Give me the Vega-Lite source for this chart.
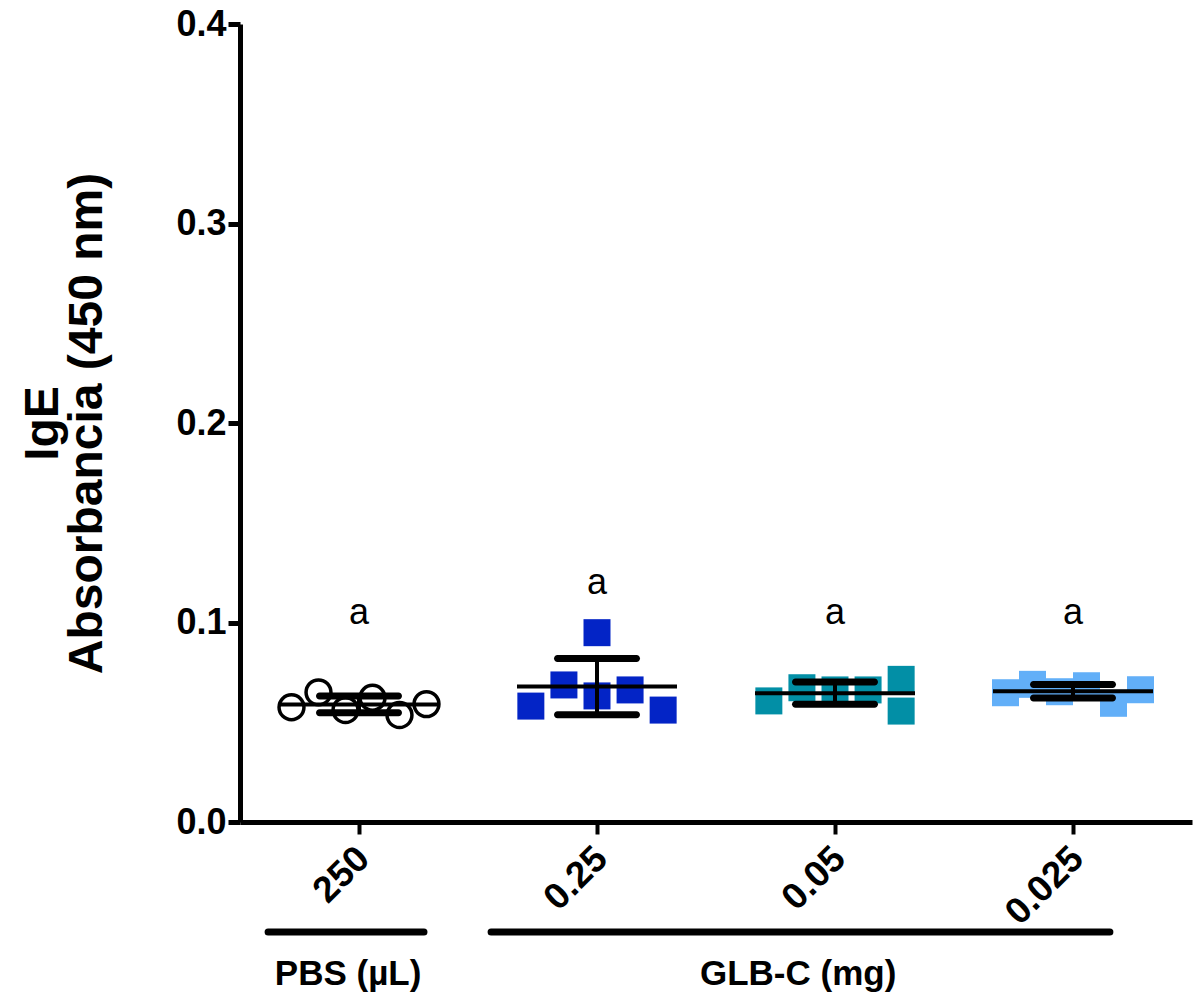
{
  "$schema": "https://vega.github.io/schema/vega-lite/v6.json",
  "width": 952,
  "height": 798,
  "autosize": "none",
  "padding": {"left": 240, "top": 24, "right": 4, "bottom": 178},
  "background": "white",
  "config": {"view": {"stroke": null}, "font": "Liberation Sans"},
  "datasets": {
    "points": [
      {"treatment": "PBS", "dose": "250", "value": 0.0575, "jitter": -1.0},
      {"treatment": "PBS", "dose": "250", "value": 0.0650, "jitter": -0.6},
      {"treatment": "PBS", "dose": "250", "value": 0.0561, "jitter": -0.2},
      {"treatment": "PBS", "dose": "250", "value": 0.0623, "jitter": 0.2},
      {"treatment": "PBS", "dose": "250", "value": 0.0536, "jitter": 0.6},
      {"treatment": "PBS", "dose": "250", "value": 0.0591, "jitter": 1.0},
      {"treatment": "GLB-C", "dose": "0.25", "value": 0.0581, "jitter": -0.98},
      {"treatment": "GLB-C", "dose": "0.25", "value": 0.0687, "jitter": -0.49},
      {"treatment": "GLB-C", "dose": "0.25", "value": 0.0949, "jitter": 0.0},
      {"treatment": "GLB-C", "dose": "0.25", "value": 0.0632, "jitter": 0.0},
      {"treatment": "GLB-C", "dose": "0.25", "value": 0.0662, "jitter": 0.49},
      {"treatment": "GLB-C", "dose": "0.25", "value": 0.0561, "jitter": 0.98},
      {"treatment": "GLB-C", "dose": "0.05", "value": 0.0607, "jitter": -0.98},
      {"treatment": "GLB-C", "dose": "0.05", "value": 0.0673, "jitter": -0.49},
      {"treatment": "GLB-C", "dose": "0.05", "value": 0.0662, "jitter": 0.0},
      {"treatment": "GLB-C", "dose": "0.05", "value": 0.0662, "jitter": 0.49},
      {"treatment": "GLB-C", "dose": "0.05", "value": 0.0715, "jitter": 0.98},
      {"treatment": "GLB-C", "dose": "0.05", "value": 0.0556, "jitter": 0.98},
      {"treatment": "GLB-C", "dose": "0.025", "value": 0.0648, "jitter": -1.0},
      {"treatment": "GLB-C", "dose": "0.025", "value": 0.0690, "jitter": -0.6},
      {"treatment": "GLB-C", "dose": "0.025", "value": 0.0653, "jitter": -0.2},
      {"treatment": "GLB-C", "dose": "0.025", "value": 0.0683, "jitter": 0.2},
      {"treatment": "GLB-C", "dose": "0.025", "value": 0.0595, "jitter": 0.6},
      {"treatment": "GLB-C", "dose": "0.025", "value": 0.0663, "jitter": 1.0}
    ],
    "letters": [
      {"dose": "250", "letter": "a", "pos": 0.105},
      {"dose": "0.25", "letter": "a", "pos": 0.12},
      {"dose": "0.05", "letter": "a", "pos": 0.105},
      {"dose": "0.025", "letter": "a", "pos": 0.105}
    ],
    "groups": [
      {"label": "PBS (µL)", "start": 0.618, "end": 1.273, "mid": 0.954},
      {"label": "GLB-C (mg)", "start": 1.555, "end": 4.155, "mid": 2.845}
    ]
  },
  "resolve": {"scale": {"x": "independent"}},
  "layer": [
    {
      "layer": [
        {
          "data": {"name": "points"},
          "transform": [{"filter": "datum.treatment == 'PBS'"}],
          "mark": {"type": "point", "shape": "circle", "filled": false, "stroke": "black", "strokeWidth": 3.5, "size": 620, "opacity": 1},
          "encoding": {
            "x": {
              "field": "dose", "type": "nominal",
              "sort": ["250", "0.25", "0.05", "0.025"],
              "scale": {"domain": ["250", "0.25", "0.05", "0.025"], "paddingInner": 0, "paddingOuter": 0},
              "axis": {
                "title": null, "labelAngle": -45, "labelFont": "Liberation Sans", "labelFontWeight": "bold",
                "labelFontSize": 37, "labelColor": "black", "labelPadding": 6, "labelOffset": -8,
                "domainWidth": 5, "domainColor": "black", "tickWidth": 4, "tickColor": "black", "tickSize": 12, "grid": false
              }
            },
            "xOffset": {"field": "jitter", "type": "quantitative", "scale": {"domain": [-1.763, 1.763]}},
            "y": {
              "field": "value", "type": "quantitative",
              "title": ["IgE", "Absorbancia (450 nm)"],
              "scale": {"domain": [0, 0.4], "nice": false, "zero": true},
              "axis": {
                "values": [0, 0.1, 0.2, 0.3, 0.4], "format": ".1f", "grid": false,
                "domainWidth": 5, "domainColor": "black", "tickWidth": 5, "tickColor": "black", "tickSize": 12,
                "labelFont": "Liberation Sans", "labelFontWeight": "bold", "labelFontSize": 36, "labelColor": "black", "labelPadding": 2,
                "titleFont": "Liberation Sans", "titleFontSize": 48,
                "titleFontWeight": "bold", "titleColor": "black", "titlePadding": 64, "titleLineHeight": 44
              }
            }
          }
        },
        {
          "data": {"name": "points"},
          "transform": [{"filter": "datum.treatment != 'PBS'"}],
          "mark": {"type": "point", "shape": "square", "filled": true, "opacity": 1, "size": 729, "strokeWidth": 0},
          "encoding": {
            "x": {"field": "dose", "type": "nominal", "sort": ["250", "0.25", "0.05", "0.025"]},
            "xOffset": {"field": "jitter", "type": "quantitative", "scale": {"domain": [-1.763, 1.763]}},
            "y": {"field": "value", "type": "quantitative", "title": ["IgE", "Absorbancia (450 nm)"]},
            "color": {
              "field": "dose", "type": "nominal", "legend": null,
              "scale": {"domain": ["0.25", "0.05", "0.025"], "range": ["#0324C6", "#028FA6", "#62AFF8"]}
            }
          }
        },
        {
          "data": {"name": "points"},
          "mark": {
            "type": "errorbar", "extent": "stdev",
            "ticks": {"size": 86, "thickness": 7, "color": "black", "opacity": 1, "cornerRadius": 3.5},
            "rule": {"strokeWidth": 4, "color": "black", "opacity": 1}
          },
          "encoding": {
            "x": {"field": "dose", "type": "nominal", "sort": ["250", "0.25", "0.05", "0.025"]},
            "y": {"field": "value", "type": "quantitative", "title": ["IgE", "Absorbancia (450 nm)"]}
          }
        },
        {
          "data": {"name": "points"},
          "mark": {"type": "tick", "size": 160, "thickness": 4, "color": "black", "opacity": 1},
          "encoding": {
            "x": {"field": "dose", "type": "nominal", "sort": ["250", "0.25", "0.05", "0.025"]},
            "y": {"aggregate": "mean", "field": "value", "type": "quantitative", "title": ["IgE", "Absorbancia (450 nm)"]}
          }
        },
        {
          "data": {"name": "letters"},
          "mark": {"type": "text", "font": "Liberation Sans", "fontSize": 36, "color": "black", "baseline": "middle", "align": "center"},
          "encoding": {
            "x": {"field": "dose", "type": "nominal", "sort": ["250", "0.25", "0.05", "0.025"]},
            "y": {"field": "pos", "type": "quantitative", "title": ["IgE", "Absorbancia (450 nm)"]},
            "text": {"field": "letter"}
          }
        }
      ]
    },
    {
      "data": {"name": "groups"},
      "layer": [
        {
          "mark": {"type": "rule", "strokeWidth": 7, "strokeCap": "round", "color": "black"},
          "encoding": {
            "x": {"field": "start", "type": "quantitative", "scale": {"domain": [0.5, 4.5], "nice": false, "zero": false}, "axis": null},
            "x2": {"field": "end"},
            "y": {"datum": -0.0551, "type": "quantitative", "title": ["IgE", "Absorbancia (450 nm)"]}
          }
        },
        {
          "mark": {"type": "text", "font": "Liberation Sans", "fontWeight": "bold", "fontSize": 35, "color": "black", "baseline": "middle", "align": "center"},
          "encoding": {
            "x": {"field": "mid", "type": "quantitative"},
            "y": {"datum": -0.0762, "type": "quantitative", "title": ["IgE", "Absorbancia (450 nm)"]},
            "text": {"field": "label"}
          }
        }
      ]
    }
  ]
}
